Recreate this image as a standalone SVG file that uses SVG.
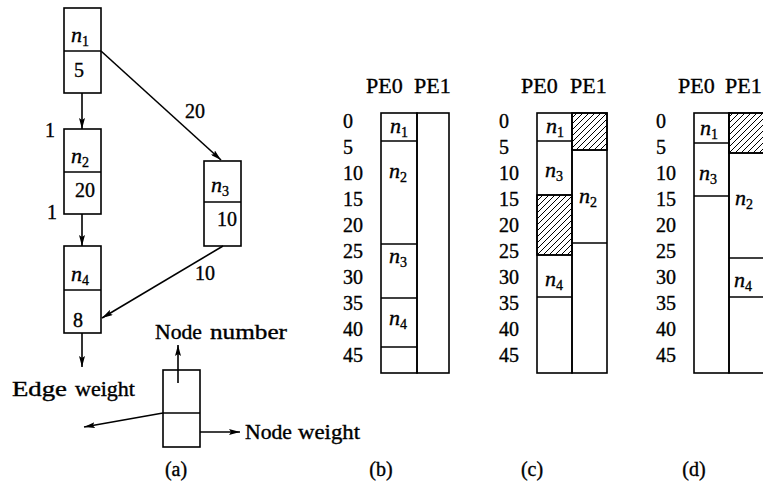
<svg xmlns="http://www.w3.org/2000/svg" width="763" height="493" viewBox="0 0 763 493">
<style>
text{font-family:"Liberation Serif","Times New Roman",serif;font-size:20px;fill:#000;stroke:#000;stroke-width:0.35}
.it{font-style:italic;font-size:22px}
.sub{font-size:14px;font-style:normal}
.hd{font-size:22px}
.box{fill:none;stroke:#000;stroke-width:1.6}
.ln{stroke:#000;stroke-width:1.6;fill:none}
.edge{stroke:#000;stroke-width:1.6;fill:none;marker-end:url(#ah)}
.hatch{fill:url(#hp);stroke:#000;stroke-width:1.6}
.mid{text-anchor:middle}
</style>
<defs>
<marker id="ah" viewBox="0 0 11 6" refX="11" refY="3" markerWidth="11" markerHeight="6" markerUnits="userSpaceOnUse" orient="auto">
<path d="M0,0 L11,3 L0,6 L2,3 z" fill="#000"/>
</marker>
<pattern id="hp" patternUnits="userSpaceOnUse" width="6" height="6">
<rect width="6" height="6" fill="#fff"/>
<path d="M-1,1 L1,-1 M0,6 L6,0 M5,7 L7,5" stroke="#000" stroke-width="1"/>
</pattern>
</defs>
<rect width="763" height="493" fill="#fff"/>

<!-- Panel (a): task graph -->
<g id="connectors">
<line class="edge" x1="82" y1="93" x2="82" y2="129"/>
<line class="edge" x1="82" y1="214" x2="82" y2="246"/>
<line class="edge" x1="82" y1="333" x2="82" y2="367"/>
<line class="edge" x1="101" y1="51" x2="221" y2="160"/>
<line class="edge" x1="223" y1="246" x2="102" y2="318"/>
<text x="45" y="137">1</text>
<text x="47" y="219">1</text>
<text x="185" y="118">20</text>
<text x="195" y="280">10</text>
</g>
<g id="n1">
<rect class="box" x="64" y="8" width="37" height="85"/>
<line class="ln" x1="64" y1="51" x2="101" y2="51"/>
<text class="it" x="71" y="42">n<tspan class="sub" dy="4">1</tspan></text>
<text x="74" y="77">5</text>
</g>
<g id="n2">
<rect class="box" x="64" y="129" width="37" height="85"/>
<line class="ln" x1="64" y1="172" x2="101" y2="172"/>
<text class="it" x="71" y="163">n<tspan class="sub" dy="4">2</tspan></text>
<text x="75" y="197">20</text>
</g>
<g id="n3">
<rect class="box" x="204" y="161" width="37" height="85"/>
<line class="ln" x1="204" y1="202" x2="241" y2="202"/>
<text class="it" x="211" y="192">n<tspan class="sub" dy="4">3</tspan></text>
<text x="217" y="226">10</text>
</g>
<g id="n4">
<rect class="box" x="64" y="246" width="37" height="87"/>
<line class="ln" x1="64" y1="290" x2="101" y2="290"/>
<text class="it" x="71" y="281">n<tspan class="sub" dy="4">4</tspan></text>
<text x="73" y="327">8</text>
</g>

<!-- Legend -->
<g id="legend">
<rect class="box" x="163" y="370" width="37" height="77"/>
<line class="ln" x1="163" y1="413" x2="200" y2="413"/>
<line class="edge" x1="178" y1="383" x2="178" y2="345"/>
<line class="edge" x1="163" y1="413" x2="84" y2="427"/>
<line class="edge" x1="200" y1="432" x2="240" y2="432"/>
<text x="155" y="339"><tspan textLength="47" lengthAdjust="spacingAndGlyphs">Node</tspan></text>
<text x="210" y="339"><tspan textLength="77" lengthAdjust="spacingAndGlyphs">number</tspan></text>
<text x="12" y="396"><tspan textLength="55" lengthAdjust="spacingAndGlyphs">Edge</tspan></text>
<text x="75" y="396"><tspan textLength="60" lengthAdjust="spacingAndGlyphs">weight</tspan></text>
<text x="245" y="439"><tspan textLength="47" lengthAdjust="spacingAndGlyphs">Node</tspan></text>
<text x="298" y="439"><tspan textLength="62" lengthAdjust="spacingAndGlyphs">weight</tspan></text>
</g>

<!-- Panel (b) -->
<g id="chart-b">
<text class="hd" x="366" y="93">PE0</text>
<text class="hd" x="414" y="93">PE1</text>
<g transform="translate(343,0)">
<text y="128">0</text><text y="154">5</text><text y="180">10</text><text y="206">15</text><text y="232">20</text>
<text y="258">25</text><text y="284">30</text><text y="310">35</text><text y="336">40</text><text y="362">45</text>
</g>
<rect class="box" x="381" y="113" width="36" height="260"/>
<rect class="box" x="417" y="113" width="32" height="260"/>
<line class="ln" x1="381" y1="141" x2="417" y2="141"/>
<line class="ln" x1="381" y1="244" x2="417" y2="244"/>
<line class="ln" x1="381" y1="298" x2="417" y2="298"/>
<line class="ln" x1="381" y1="347" x2="417" y2="347"/>
<text class="it mid" x="399" y="133">n<tspan class="sub" dy="4">1</tspan></text>
<text class="it mid" x="398" y="178">n<tspan class="sub" dy="4">2</tspan></text>
<text class="it mid" x="398" y="263">n<tspan class="sub" dy="4">3</tspan></text>
<text class="it mid" x="398" y="325">n<tspan class="sub" dy="4">4</tspan></text>
</g>

<!-- Panel (c) -->
<g id="chart-c">
<text class="hd" x="521" y="93">PE0</text>
<text class="hd" x="570" y="93">PE1</text>
<g transform="translate(499,0)">
<text y="128">0</text><text y="154">5</text><text y="180">10</text><text y="206">15</text><text y="232">20</text>
<text y="258">25</text><text y="284">30</text><text y="310">35</text><text y="336">40</text><text y="362">45</text>
</g>
<rect class="hatch" x="572" y="113" width="35" height="37"/>
<rect class="hatch" x="537" y="195" width="35" height="60"/>
<rect class="box" x="537" y="113" width="35" height="260"/>
<rect class="box" x="572" y="113" width="35" height="260"/>
<line class="ln" x1="537" y1="141" x2="572" y2="141"/>
<line class="ln" x1="537" y1="195" x2="572" y2="195"/>
<line class="ln" x1="537" y1="255" x2="572" y2="255"/>
<line class="ln" x1="537" y1="297" x2="572" y2="297"/>
<line class="ln" x1="572" y1="150" x2="607" y2="150"/>
<line class="ln" x1="572" y1="243" x2="607" y2="243"/>
<text class="it mid" x="555" y="133">n<tspan class="sub" dy="4">1</tspan></text>
<text class="it mid" x="554" y="177">n<tspan class="sub" dy="4">3</tspan></text>
<text class="it mid" x="588" y="203">n<tspan class="sub" dy="4">2</tspan></text>
<text class="it mid" x="554" y="286">n<tspan class="sub" dy="4">4</tspan></text>
</g>

<!-- Panel (d) -->
<g id="chart-d">
<text class="hd" x="678" y="93">PE0</text>
<text class="hd" x="725" y="93">PE1</text>
<g transform="translate(656,0)">
<text y="128">0</text><text y="154">5</text><text y="180">10</text><text y="206">15</text><text y="232">20</text>
<text y="258">25</text><text y="284">30</text><text y="310">35</text><text y="336">40</text><text y="362">45</text>
</g>
<rect class="hatch" x="729" y="113" width="36" height="40"/>
<rect class="box" x="694" y="113" width="35" height="260"/>
<rect class="box" x="729" y="113" width="36" height="260"/>
<line class="ln" x1="694" y1="143" x2="729" y2="143"/>
<line class="ln" x1="694" y1="196" x2="729" y2="196"/>
<line class="ln" x1="729" y1="153" x2="765" y2="153"/>
<line class="ln" x1="729" y1="258" x2="765" y2="258"/>
<line class="ln" x1="729" y1="297" x2="765" y2="297"/>
<text class="it mid" x="709" y="135">n<tspan class="sub" dy="4">1</tspan></text>
<text class="it mid" x="708" y="180">n<tspan class="sub" dy="4">3</tspan></text>
<text class="it mid" x="744" y="205">n<tspan class="sub" dy="4">2</tspan></text>
<text class="it mid" x="743" y="287">n<tspan class="sub" dy="4">4</tspan></text>
</g>

<!-- Captions -->
<g id="captions">
<text class="mid" x="176" y="476">(a)</text>
<text class="mid" x="381" y="476">(b)</text>
<text class="mid" x="532" y="476">(c)</text>
<text class="mid" x="694" y="476">(d)</text>
</g>
</svg>
